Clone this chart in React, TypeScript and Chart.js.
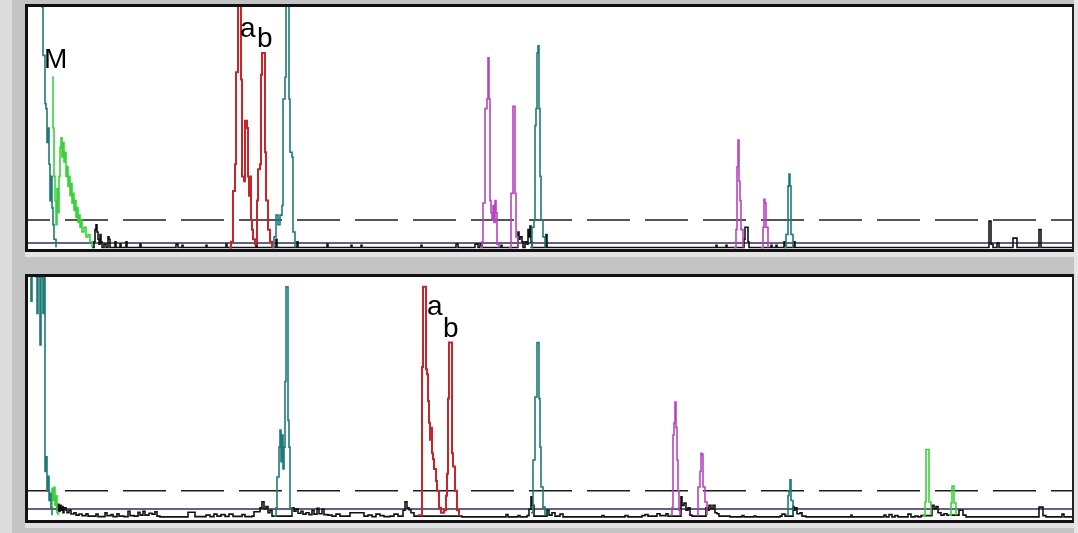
import { useEffect, useRef } from "react";
import { Chart, registerables } from "chart.js";

Chart.register(...registerables);

type Pt = [number, number | null];
type Label = [string, number, number];

// x = scan position, y = relative fluorescence (0..100 full scale)
const X_MIN = 28;
const X_MAX = 1072;

// ---------- upper trace ----------
const TOP_THRESHOLD = 12;
const TOP_BASELINE = 2.5;

const TOP_TEAL: Pt[] = [
  [28, 120], [38, 120], [40, 115], [42, 100], [43, 80], [45, 60], [46, 58], [47, 44], [48, 50], [49, 35],
  [50, 20], [51, 30], [52, 17], [53, 10], [54, 4], [56, 0.6],
  [57, null],
  [272, 0.6], [274, 5], [276, 14], [278, 10], [280, 14], [282, 18], [283, 62], [285, 71], [286, 105], [288, 105],
  [289, 62], [290, 40], [292, 38], [293, 7], [295, 0.6],
  [296, null],
  [530, 0.6], [532, 9], [534, 12], [535, 51], [536, 58], [537, 81], [538, 84], [539, 58], [540, 30], [541, 12],
  [543, 5], [545, 0.6],
  [546, null],
  [784, 0.6], [786, 6], [788, 26], [789, 31], [790, 26], [791, 6], [793, 0.6],
];

const TOP_GREEN: Pt[] = [
  [52, 71], [53, 50], [54, 30], [55, 20], [56, 10], [57, 25], [58, 15], [59, 30], [60, 42], [61, 46], [62, 38],
  [63, 44], [64, 36], [65, 40], [66, 30], [67, 34], [68, 26], [69, 30], [70, 22], [71, 27], [72, 19], [73, 23],
  [74, 16], [75, 20], [76, 13], [77, 17], [78, 11], [79, 14], [80, 9], [81, 12], [82, 7], [84, 9], [86, 5],
  [88, 6], [90, 3], [92, 0.6],
];

const TOP_RED: Pt[] = [
  [229, 0.6], [231, 3], [233, 24], [235, 35], [236, 73], [238, 115], [240, 115], [241, 70], [242, 30], [244, 28],
  [245, 53], [247, 50], [248, 30], [249, 22], [250, 30], [251, 12], [252, 8], [253, 4], [255, 2], [256, 3],
  [257, 20], [258, 33], [260, 35], [261, 72], [262, 81], [264, 81], [265, 40], [266, 20], [268, 8], [270, 3],
  [272, 0.6],
];

const TOP_MAGENTA: Pt[] = [
  [480, 0.6], [482, 3], [483, 19], [485, 58], [487, 62], [488, 79], [489, 62], [490, 20], [491, 15], [492, 12],
  [493, 18], [494, 11], [495, 20], [496, 15], [497, 2], [499, 0.6],
  [500, null],
  [509, 0.6], [511, 23], [513, 59], [515, 23], [516, 5], [518, 0.6],
  [519, null],
  [734, 0.6], [736, 8], [737, 34], [738, 45], [739, 28], [740, 20], [741, 8], [743, 0.6],
  [744, null],
  [761, 0.6], [763, 9], [764, 20.5], [765, 19], [766, 9], [768, 0.6],
];

const TOP_BLACK: Pt[] = [
  [92, 0.6], [94, 3], [95, 8], [96, 10], [97, 7], [98, 4], [99, 2], [100, 6], [101, 3], [102, 0.6], [104, 2],
  [106, 0.6], [108, 5], [109, 4], [110, 0.6], [113, 0.6], [115, 3], [116, 0.6], [120, 2], [121, 0.6], [125, 0.6],
  [126, 3], [127, 0.6], [135, 0.6], [140, 2], [141, 0.6], [150, 0.6], [175, 0.6], [176, 2], [178, 0.6],
  [182, 1.5], [183, 0.6], [205, 0.6], [206, 1.5], [207, 0.6], [225, 0.6], [226, 2], [227, 0.6], [255, 0.6],
  [256, 3], [257, 0.6], [275, 0.6], [276, 4], [277, 0.6], [296, 0.6], [297, 3], [298, 0.6], [326, 0.6],
  [327, 2], [328, 0.6], [350, 0.6], [351, 1.5], [352, 0.6], [360, 0.6], [361, 1.5], [362, 0.6], [420, 0.6],
  [421, 1.5], [422, 0.6], [455, 0.6], [456, 2], [458, 0.6], [474, 0.6], [475, 2], [477, 2], [478, 0.6],
  [480, 2], [482, 0.6], [500, 0.6], [501, 1.5], [502, 0.6], [517, 0.6], [518, 7], [519, 4], [520, 5],
  [522, 3], [523, 0.6], [525, 3], [527, 2], [528, 8], [529, 5], [530, 9.5], [531, 3], [532, 0.6], [545, 0.6],
  [546, 6], [547, 0.6], [715, 0.6], [716, 1.5], [717, 0.6], [725, 0.6], [726, 1.5], [727, 0.6], [742, 0.6],
  [744, 4], [745, 9], [747, 9], [748, 3], [749, 0.6], [770, 0.6], [771, 1.5], [772, 0.6], [775, 0.6],
  [776, 1.5], [777, 0.6], [783, 0.6], [784, 3], [785, 0.6], [793, 0.6], [794, 3], [795, 0.6], [988, 0.6],
  [989, 11.5], [990, 11.5], [991, 2], [993, 0.6], [996, 0.6], [997, 2.5], [999, 0.6], [1012, 0.6],
  [1013, 4.5], [1016, 4.5], [1017, 0.6], [1038, 0.6], [1039, 8], [1040, 8], [1041, 0.6], [1072, 0.6],
];

const TOP_LABELS: Label[] = [
  ["M", 44, 75],
  ["a", 240, 87.5],
  ["b", 257, 83.5],
];

// ---------- lower trace ----------
const BOTTOM_THRESHOLD = 12;
const BOTTOM_BASELINE = 4.5;

const BOTTOM_TEAL: Pt[] = [
  [28, 110], [30, 110], [31, 90], [32, 110], [34, 110], [36, 100], [37, 85], [38, 100], [40, 72], [41, 100],
  [43, 85], [44, 100], [45, 20], [46, 26], [47, 12], [48, 18], [49, 8], [50, 11], [51, 5], [52, 2],
  [53, null],
  [274, 1.6], [276, 5], [277, 17.7], [279, 30], [280, 37], [281, 24], [282, 35], [283, 21], [284, 30],
  [285, 57], [286, 96], [287, 96], [288, 41], [289, 30], [290, 5], [292, 2],
  [293, null],
  [531, 3], [533, 24.7], [535, 50.6], [537, 73], [538, 73], [539, 50], [540, 30], [541, 13.6], [543, 5.3],
  [545, 2],
  [546, null],
  [786, 2], [788, 10], [789, 12], [790, 16.5], [791, 8], [793, 2],
];

const BOTTOM_GREEN: Pt[] = [
  [50, 5], [52, 13], [53, 8], [54, 13.5], [55, 6], [56, 10], [57, 3], [58, 2],
  [59, null],
  [923, 2], [925, 7.4], [926, 29], [928, 29], [929, 7.4], [931, 2],
  [932, null],
  [949, 2], [951, 7], [952, 14], [953, 14], [954, 7], [956, 2],
];

const BOTTOM_RED: Pt[] = [
  [418, 2], [420, 2], [422, 63], [423, 96], [425, 96], [426, 62], [427, 60], [428, 49], [429, 40], [430, 33],
  [431, 38], [432, 27.5], [433, 25], [434, 21], [436, 16], [437, 12], [439, 5], [441, 3], [444, 4], [446, 10],
  [447, 19], [448, 50], [449, 73], [451, 73], [452, 27.5], [453, 22], [455, 12], [457, 4], [459, 1.6],
];

const BOTTOM_MAGENTA: Pt[] = [
  [670, 2], [672, 5], [673, 35], [674, 40], [675, 48.5], [676, 38], [677, 24.7], [678, 12], [679, 4], [680, 2],
  [681, null],
  [697, 2], [698, 13.6], [700, 20], [701, 27.5], [702, 27], [703, 13.6], [705, 7.4], [707, 2],
];

const BOTTOM_BLACK: Pt[] = [
  [56, 6], [57, 4], [58, 6.5], [59, 3.5], [60, 6], [61, 4], [62, 5.5], [63, 3], [64, 5], [66, 4], [67, 3],
  [69, 4], [71, 2.5], [74, 3], [76, 2], [79, 2.5], [82, 1.8], [86, 2.6], [88, 1.6], [92, 1.6], [96, 2.4],
  [98, 1.4], [103, 1.4], [105, 3], [107, 1.8], [111, 2.2], [113, 1.4], [117, 2.6], [119, 1.6], [124, 1.4],
  [128, 3.6], [130, 1.8], [134, 1.6], [138, 3.2], [140, 2], [143, 3.6], [145, 2], [149, 2.8], [152, 2.4],
  [155, 3.4], [157, 1.6], [160, 1.3], [168, 1.3], [186, 1.3], [188, 3.2], [193, 3.2], [195, 1.4], [203, 1.4],
  [206, 2], [210, 1.4], [214, 2.4], [217, 1.6], [221, 2.2], [225, 1.5], [229, 2.4], [233, 1.5], [239, 1.5],
  [242, 2.2], [245, 1.4], [252, 1.6], [254, 3.4], [258, 3.4], [260, 5], [262, 7.5], [264, 4.6], [266, 5.5],
  [268, 3], [270, 4], [272, 1.6], [290, 1.6], [292, 5], [294, 3.6], [296, 4.6], [298, 2.8], [301, 3.6],
  [303, 2.4], [306, 3], [309, 2.2], [312, 4], [314, 2.4], [317, 4.8], [319, 2.6], [322, 4.4], [324, 2.2],
  [328, 2], [332, 1.6], [336, 2.4], [340, 1.6], [345, 1.6], [350, 3], [362, 3], [364, 1.6], [368, 2],
  [372, 1.4], [376, 2.4], [380, 1.8], [384, 1.4], [390, 1.6], [394, 2.4], [398, 1.6], [403, 4], [405, 7.5],
  [407, 5], [409, 4.2], [411, 3], [414, 1.6], [459, 1.6], [462, 1.3], [505, 1.3], [506, 2.2], [508, 1.3],
  [516, 1.3], [518, 1.8], [520, 1.3], [527, 1.8], [529, 4.4], [531, 9.5], [532, 6], [534, 1.6], [545, 1.6],
  [547, 4], [549, 2], [552, 3], [555, 1.6], [560, 2.4], [563, 1.3], [600, 1.3], [602, 1.8], [604, 1.3],
  [620, 1.3], [625, 1.8], [628, 1.3], [640, 1.3], [642, 1.8], [645, 2.2], [648, 1.6], [655, 1.6],
  [657, 2.6], [660, 1.8], [664, 1.8], [666, 2.6], [668, 1.6], [680, 1.6], [681, 9.5], [682, 6], [684, 7],
  [686, 4], [688, 5], [690, 2], [692, 1.6], [705, 1.6], [706, 5], [708, 4], [709, 6], [711, 4.5], [713, 6],
  [715, 3], [717, 2.6], [719, 1.6], [730, 1.3], [740, 1.3], [742, 1.8], [744, 1.3], [754, 1.6], [756, 1.3],
  [780, 1.6], [782, 2.4], [785, 1.6], [792, 1.6], [793, 5.5], [794, 4], [795, 5], [797, 2.6], [800, 3],
  [802, 1.6], [806, 1.3], [850, 1.3], [851, 2], [852, 1.3], [880, 1.3], [884, 2], [886, 1.3], [889, 2.2],
  [892, 1.3], [895, 1.8], [898, 1.3], [905, 1.3], [908, 2.4], [911, 1.3], [915, 1.6], [918, 1.3], [921, 1.8],
  [931, 1.8], [932, 6], [934, 4.5], [936, 5.5], [938, 3], [941, 2], [944, 2.6], [947, 2], [958, 2], [959, 4],
  [961, 4], [963, 2], [966, 1.3], [1037, 1.3], [1039, 5.3], [1041, 5.3], [1043, 1.8], [1046, 1.3],
  [1060, 1.3], [1062, 2.4], [1064, 1.3], [1072, 1.3],
];

const BOTTOM_LABELS: Label[] = [
  ["a", 427, 84.4],
  ["b", 443, 75.3],
];

const TEAL = "#1d7b77";
const GREEN = "#3ad23a";
const RED = "#c4262a";
const MAGENTA = "#b844c0";
const BLACK = "#111111";
const BASE_LINE = "#332d58";
const DASH_LINE = "#1c1c1c";

function trace(label: string, pts: Pt[], color: string, width: number, order: number) {
  return {
    label,
    data: pts.map(([x, y]) => ({ x, y })),
    borderColor: color,
    borderWidth: width,
    pointRadius: 0,
    stepped: true,
    spanGaps: false,
    fill: false,
    tension: 0,
    order,
  };
}

function hline(label: string, value: number, color: string, dash: number[]) {
  return {
    label,
    data: [
      { x: X_MIN, y: value },
      { x: X_MAX, y: value },
    ],
    borderColor: color,
    borderWidth: 1.5,
    borderDash: dash,
    borderDashOffset: 21,
    pointRadius: 0,
    fill: false,
    order: 10,
  };
}

type PanelProps = {
  left: number;
  top: number;
  width: number;
  height: number;
  teal: Pt[];
  green: Pt[];
  red: Pt[];
  magenta: Pt[];
  black: Pt[];
  threshold: number;
  baseline: number;
  labels: Label[];
};

function Panel(p: PanelProps) {
  const ref = useRef<HTMLCanvasElement | null>(null);
  useEffect(() => {
    if (!ref.current) return;
    const labelPlugin = {
      id: "peakLabels",
      afterDatasetsDraw(chart: any) {
        const ctx = chart.ctx;
        const xs = chart.scales.x;
        const ys = chart.scales.y;
        ctx.save();
        ctx.font = '28px "Liberation Sans", Arial, sans-serif';
        ctx.fillStyle = "#000";
        ctx.textBaseline = "alphabetic";
        ctx.textAlign = "left";
        for (const [t, x, v] of p.labels) {
          ctx.fillText(t, xs.getPixelForValue(x), ys.getPixelForValue(v));
        }
        ctx.restore();
      },
    };
    const chart = new Chart(ref.current, {
      type: "line",
      data: {
        datasets: [
          trace("teal", p.teal, TEAL, 1.6, 1),
          trace("red", p.red, RED, 2, 1),
          trace("magenta", p.magenta, MAGENTA, 1.6, 1),
          trace("green", p.green, GREEN, 1.6, 1),
          trace("black", p.black, BLACK, 1.6, 4),
          hline("threshold", p.threshold, DASH_LINE, [43, 15]),
          hline("baseline", p.baseline, BASE_LINE, []),
        ] as any,
      },
      options: {
        responsive: false,
        animation: false,
        devicePixelRatio: 1,
        events: [],
        layout: { padding: 0 },
        plugins: { legend: { display: false }, tooltip: { enabled: false } },
        scales: {
          x: { type: "linear", min: X_MIN, max: X_MAX, display: false },
          y: { type: "linear", min: 0, max: 100, display: false },
        },
      },
      plugins: [labelPlugin],
    });
    return () => chart.destroy();
  }, []);
  return (
    <div
      style={{
        position: "absolute",
        left: p.left,
        top: p.top,
        width: p.width,
        height: p.height,
        background: "#fff",
        borderLeft: "3px solid #111",
        borderTop: "3px solid #111",
        borderRight: "2px solid #222",
        borderBottom: "3px solid #111",
      }}
    >
      <canvas ref={ref} width={p.width} height={p.height} style={{ display: "block" }} />
    </div>
  );
}

export default function App() {
  return (
    <div
      style={{
        position: "fixed",
        left: 0,
        top: 0,
        width: 1078,
        height: 533,
        background: "#c4c4c4",
        overflow: "hidden",
      }}
    >
      <div style={{ position: "absolute", left: 0, top: 0, width: 12, height: 533, background: "#dcdcdc" }} />
      <div style={{ position: "absolute", left: 25, top: 252, width: 1051, height: 5, background: "#e4e4e4" }} />
      <div style={{ position: "absolute", left: 25, top: 523, width: 1051, height: 5, background: "#e0e0e0" }} />
      <div style={{ position: "absolute", left: 1074, top: 0, width: 4, height: 533, background: "#e6e6e6" }} />
      <Panel
        left={25}
        top={4}
        width={1044}
        height={242}
        teal={TOP_TEAL}
        green={TOP_GREEN}
        red={TOP_RED}
        magenta={TOP_MAGENTA}
        black={TOP_BLACK}
        threshold={TOP_THRESHOLD}
        baseline={TOP_BASELINE}
        labels={TOP_LABELS}
      />
      <Panel
        left={25}
        top={274}
        width={1044}
        height={243}
        teal={BOTTOM_TEAL}
        green={BOTTOM_GREEN}
        red={BOTTOM_RED}
        magenta={BOTTOM_MAGENTA}
        black={BOTTOM_BLACK}
        threshold={BOTTOM_THRESHOLD}
        baseline={BOTTOM_BASELINE}
        labels={BOTTOM_LABELS}
      />
    </div>
  );
}
